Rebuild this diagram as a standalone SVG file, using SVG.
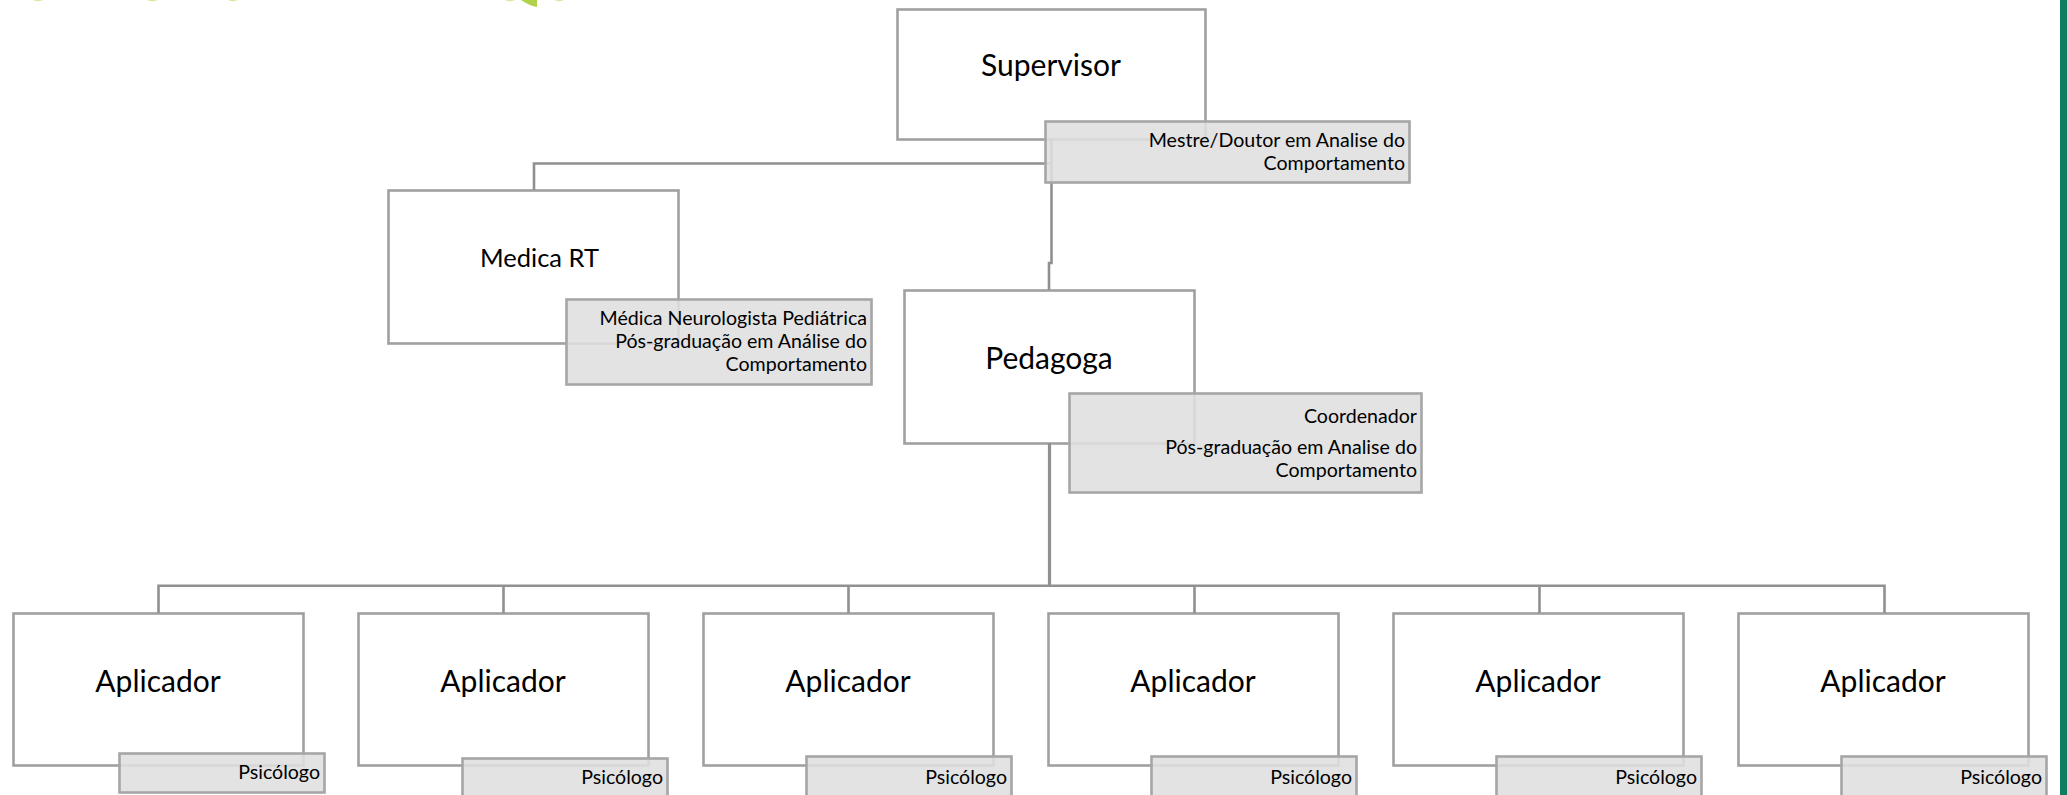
<svg xmlns="http://www.w3.org/2000/svg" width="2067" height="795" viewBox="0 0 2067 795">
<style>
.box{fill:#fff;stroke:#a0a0a0;stroke-width:2.6}
.lab{fill:#dfdfdf;fill-opacity:.88;stroke:#a6a6a6;stroke-width:2.6}
.c{fill:none;stroke:#909090;stroke-width:2.6}
text{font-family:Lato,"Liberation Sans",sans-serif;fill:#000}
.t{font-size:30px;text-anchor:middle}
.s{font-size:19.6px;text-anchor:end}
</style>
<rect width="2067" height="795" fill="#fff"/>
<g id="decor">
<rect x="2060" y="0" width="7" height="795" fill="#0e7d60"/>
<path d="M521 0Q530 6 537 7L537 0Z" fill="#afd24a"/>
<path d="M33 0Q38 2.500 43 0ZM147 0Q152 2.500 158 0ZM228 0Q233 2.500 238 0ZM505 0Q510 2.500 515 0ZM554 0Q559 2.500 564 0Z" fill="#d5e9a3"/>
</g>
<g id="n-supervisor"><rect class="box" x="897.500" y="9.500" width="308" height="130"/><text class="t" x="1051" y="76">Supervisor</text></g>
<g id="n-medica"><rect class="box" x="388.500" y="190.500" width="290" height="153"/><text class="t" x="539.500" y="267" style="font-size:25.500px">Medica RT</text></g>
<g id="n-pedagoga"><rect class="box" x="904.500" y="290.500" width="290" height="153"/><text class="t" x="1049" y="369">Pedagoga</text></g>
<g id="n-ap1"><rect class="box" x="13.500" y="613.500" width="290" height="152"/><text class="t" x="158" y="692">Aplicador</text></g>
<g id="n-ap2"><rect class="box" x="358.500" y="613.500" width="290" height="152"/><text class="t" x="503" y="692">Aplicador</text></g>
<g id="n-ap3"><rect class="box" x="703.500" y="613.500" width="290" height="152"/><text class="t" x="848" y="692">Aplicador</text></g>
<g id="n-ap4"><rect class="box" x="1048.500" y="613.500" width="290" height="152"/><text class="t" x="1193" y="692">Aplicador</text></g>
<g id="n-ap5"><rect class="box" x="1393.500" y="613.500" width="290" height="152"/><text class="t" x="1538" y="692">Aplicador</text></g>
<g id="n-ap6"><rect class="box" x="1738.500" y="613.500" width="290" height="152"/><text class="t" x="1883" y="692">Aplicador</text></g>
<g id="connectors">
<path class="c" d="M1051.500 139V263H1049V290"/>
<path class="c" d="M1051 163.500H534V190"/>
<path class="c" d="M1049.500 443V585" style="stroke-width:3.200"/>
<path class="c" d="M158.500 613V585.700H1884.500V613M503.500 585V613M848.500 585V613M1194.500 585V613M1539.500 585V613"/>
</g>
<g id="l-supervisor"><rect class="lab" x="1045.500" y="121.500" width="364" height="61"/><text class="s" x="1405" y="147">Mestre/Doutor em Analise do</text><text class="s" x="1405" y="170">Comportamento</text></g>
<g id="l-medica"><rect class="lab" x="566.500" y="299.500" width="305" height="85"/><text class="s" x="867" y="325">Médica Neurologista Pediátrica</text><text class="s" x="867" y="348">Pós-graduação em Análise do</text><text class="s" x="867" y="371">Comportamento</text></g>
<g id="l-pedagoga"><rect class="lab" x="1069.500" y="393.500" width="352" height="99"/><text class="s" x="1417" y="423">Coordenador</text><text class="s" x="1417" y="454">Pós-graduação em Analise do</text><text class="s" x="1417" y="477">Comportamento</text></g>
<g id="l-ap1"><rect class="lab" x="119.500" y="753.500" width="205" height="39"/><text class="s" x="320" y="779">Psicólogo</text></g>
<g id="l-ap2"><rect class="lab" x="462.500" y="758.500" width="205" height="50"/><text class="s" x="663" y="784">Psicólogo</text></g>
<g id="l-ap3"><rect class="lab" x="806.500" y="756.500" width="205" height="50"/><text class="s" x="1007" y="784">Psicólogo</text></g>
<g id="l-ap4"><rect class="lab" x="1151.500" y="756.500" width="205" height="50"/><text class="s" x="1352" y="784">Psicólogo</text></g>
<g id="l-ap5"><rect class="lab" x="1496.500" y="756.500" width="205" height="50"/><text class="s" x="1697" y="784">Psicólogo</text></g>
<g id="l-ap6"><rect class="lab" x="1841.500" y="756.500" width="205" height="50"/><text class="s" x="2042" y="784">Psicólogo</text></g>
</svg>
